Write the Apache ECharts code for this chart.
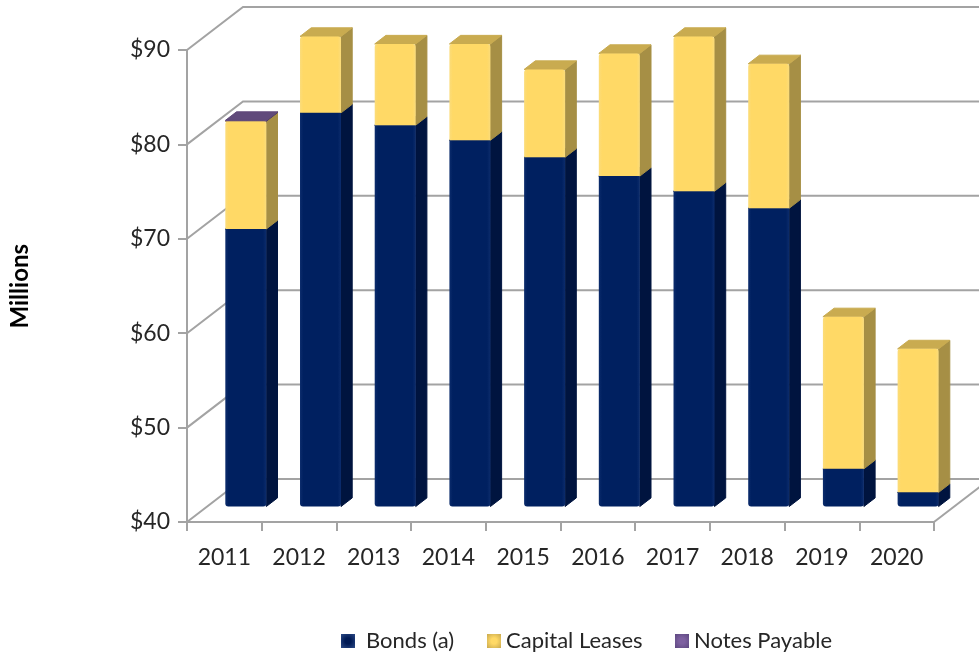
<!DOCTYPE html>
<html>
<head>
<meta charset="utf-8">
<style>
  html, body { margin: 0; padding: 0; background: #fff; }
  #chart { width: 979px; height: 655px; }
</style>
<script src="https://cdn.jsdelivr.net/npm/echarts@6/dist/echarts.min.js"></script>
</head>
<body>
<div id="chart"></div>
<script>
// Values, in $ millions
const years = ["2011", "2012", "2013", "2014", "2015", "2016", "2017", "2018", "2019", "2020"];
const bonds = [69.4, 81.7, 80.4, 78.8, 77.0, 75.0, 73.4, 71.6, 44.0, 41.5];
const capitalLeases = [11.4, 8.1, 8.6, 10.2, 9.3, 13.0, 16.4, 15.3, 16.1, 15.2];
const notesPayable = [0.1, 0, 0, 0, 0, 0, 0, 0, 0, 0];
const yTicks = [40, 50, 60, 70, 80, 90];

// Fake 3D: how far the back wall sits from the axis plane, in pixels
const WALL_DX = 56;
const WALL_DY = -43;
const BAR_FRONT = 0.36;
const BAR_BACK = 0.56;
const BAR_SHIFT = 1.3;
const BAR_WIDTH = 41;
const AXIS_MIN = yTicks[0];
const AXIS_GREY = "#a3a3a3";
const TEXT = "#262626";

const faceFill = (edge, mid) => new echarts.graphic.LinearGradient(0, 0, 1, 0, [
  {offset: 0, color: edge},
  {offset: 0.08, color: mid},
  {offset: 0.92, color: mid},
  {offset: 1, color: edge},
]);

const iconFill = (mid, edge) => new echarts.graphic.RadialGradient(0.5, 0.5, 0.7, [
  {offset: 0.3, color: mid},
  {offset: 1, color: edge},
]);

const palette = {
  bonds: {front: faceFill("#0c2c6c", "#002060"), side: "#00143f", top: "#001a50", radius: [0, 0, 3, 3]},
  capital: {front: faceFill("#fbdc7a", "#ffd966"), side: "#a68f45", top: "#c9ab50", radius: [3, 3, 0, 0]},
  notes: {front: faceFill("#6e5690", "#604a7b"), side: "#4d3b63", top: "#604a7b", radius: 0},
};

// One stacked segment of every bar: front face, side face, top face
const segment = (base, amounts, colors) => (params, api) => {
  const i = api.value(0);
  if (!amounts[i]) return;

  // the axis starts at 40, so the first segment is cut off at the floor
  const low = api.coord([i, Math.max(base[i], AXIS_MIN)]);
  const high = api.coord([i, base[i] + amounts[i]]);
  const x0 = low[0] + BAR_SHIFT + WALL_DX * BAR_FRONT - BAR_WIDTH / 2;
  const x1 = x0 + BAR_WIDTH;
  const yLow = low[1] + WALL_DY * BAR_FRONT;
  const yHigh = high[1] + WALL_DY * BAR_FRONT;
  const dx = WALL_DX * (BAR_BACK - BAR_FRONT);
  const dy = WALL_DY * (BAR_BACK - BAR_FRONT);

  return {
    type: "group",
    children: [
      {
        type: "polygon",
        shape: {points: [[x1, yLow], [x1 + dx, yLow + dy], [x1 + dx, yHigh + dy], [x1, yHigh]]},
        style: {fill: colors.side, stroke: colors.side, lineWidth: 1, lineJoin: "round"},
      },
      {
        type: "polygon",
        shape: {points: [[x0, yHigh], [x0 + dx, yHigh + dy], [x1 + dx, yHigh + dy], [x1, yHigh]]},
        style: {fill: colors.top, stroke: colors.top, lineWidth: 1, lineJoin: "round"},
      },
      {
        type: "rect",
        shape: {x: x0, y: yHigh, width: BAR_WIDTH, height: yLow - yHigh, r: colors.radius},
        style: {fill: colors.front},
      },
    ],
  };
};

const sumOf = (a, b) => a.map((v, i) => v + b[i]);
const zeros = years.map(() => 0);
const barData = years.map((y, i) => [i, bonds[i]]);

// Side wall and back wall lines, and the right edge of the floor
const renderWall = (params, api) => {
  const v = api.value(1);
  const start = api.coord([0, v]);
  const startX = start[0] - api.size([1, 0])[0] / 2;
  const endX = startX + api.size([1, 0])[0] * years.length;
  const children = [{
    type: "polyline",
    shape: {points: [[startX, start[1]], [startX + WALL_DX, start[1] + WALL_DY], [endX + WALL_DX, start[1] + WALL_DY]]},
    style: {stroke: AXIS_GREY, lineWidth: 2, fill: null},
  }];
  if (v === AXIS_MIN) {
    children.push({
      type: "line",
      shape: {x1: endX, y1: start[1], x2: endX + WALL_DX, y2: start[1] + WALL_DY},
      style: {stroke: AXIS_GREY, lineWidth: 2},
    });
  }
  return {type: "group", children};
};

const legendItem = (name, left, pad, fill) => ({
  data: [name],
  left,
  top: 630,
  padding: 0,
  icon: "rect",
  itemWidth: 14,
  itemHeight: 14,
  itemStyle: {color: fill},
  textStyle: {fontFamily: "Lato", fontSize: 22, color: TEXT, padding: [0, 0, 0, pad]},
});

const chart = echarts.init(document.getElementById("chart"), null, {renderer: "canvas"});

chart.setOption({
  animation: false,
  backgroundColor: "#ffffff",
  grid: {left: 187, right: 45, top: 50, bottom: 133},
  legend: [
    legendItem("Bonds (a)", 341, 6, iconFill("#001a55", "#2c4a86")),
    legendItem("Capital Leases", 487, 0, iconFill("#ffd966", "#c9a94f")),
    legendItem("Notes Payable", 675, 0, iconFill("#7d60a0", "#5d4880")),
  ],
  graphic: [{
    type: "text",
    left: 8,
    top: 244,
    rotation: Math.PI / 2,
    style: {text: "Millions", fontFamily: "Lato", fontWeight: "bold", fontSize: 24, fill: "#000"},
  }],
  xAxis: {
    type: "category",
    data: years,
    axisLine: {lineStyle: {color: AXIS_GREY, width: 2}},
    axisTick: {show: true, length: 9, lineStyle: {color: AXIS_GREY, width: 2}},
    axisLabel: {fontFamily: "Lato", fontSize: 23, color: TEXT, margin: 24},
  },
  yAxis: {
    type: "value",
    min: 40,
    max: 90,
    interval: 10,
    splitLine: {show: false},
    axisLine: {show: true, lineStyle: {color: AXIS_GREY, width: 2}},
    axisTick: {show: true, length: 9, lineStyle: {color: AXIS_GREY, width: 2}},
    axisLabel: {fontFamily: "Lato", fontSize: 23, color: TEXT, margin: 17, formatter: (v) => "$" + v},
  },
  series: [
    {
      name: "wall",
      type: "custom",
      silent: true,
      z: 1,
      data: yTicks.map((v) => [0, v]),
      encode: {x: 0, y: 1},
      renderItem: renderWall,
    },
    {
      name: "Bonds (a)",
      type: "custom",
      z: 2,
      data: barData,
      encode: {x: 0, y: 1},
      itemStyle: {color: "#002060"},
      renderItem: segment(zeros, bonds, palette.bonds),
    },
    {
      name: "Capital Leases",
      type: "custom",
      z: 3,
      data: barData,
      encode: {x: 0, y: 1},
      itemStyle: {color: "#ffd966"},
      renderItem: segment(bonds, capitalLeases, palette.capital),
    },
    {
      name: "Notes Payable",
      type: "custom",
      z: 4,
      data: barData,
      encode: {x: 0, y: 1},
      itemStyle: {color: "#7d60a0"},
      renderItem: segment(sumOf(bonds, capitalLeases), notesPayable, palette.notes),
    },
  ],
});
</script>
</body>
</html>
